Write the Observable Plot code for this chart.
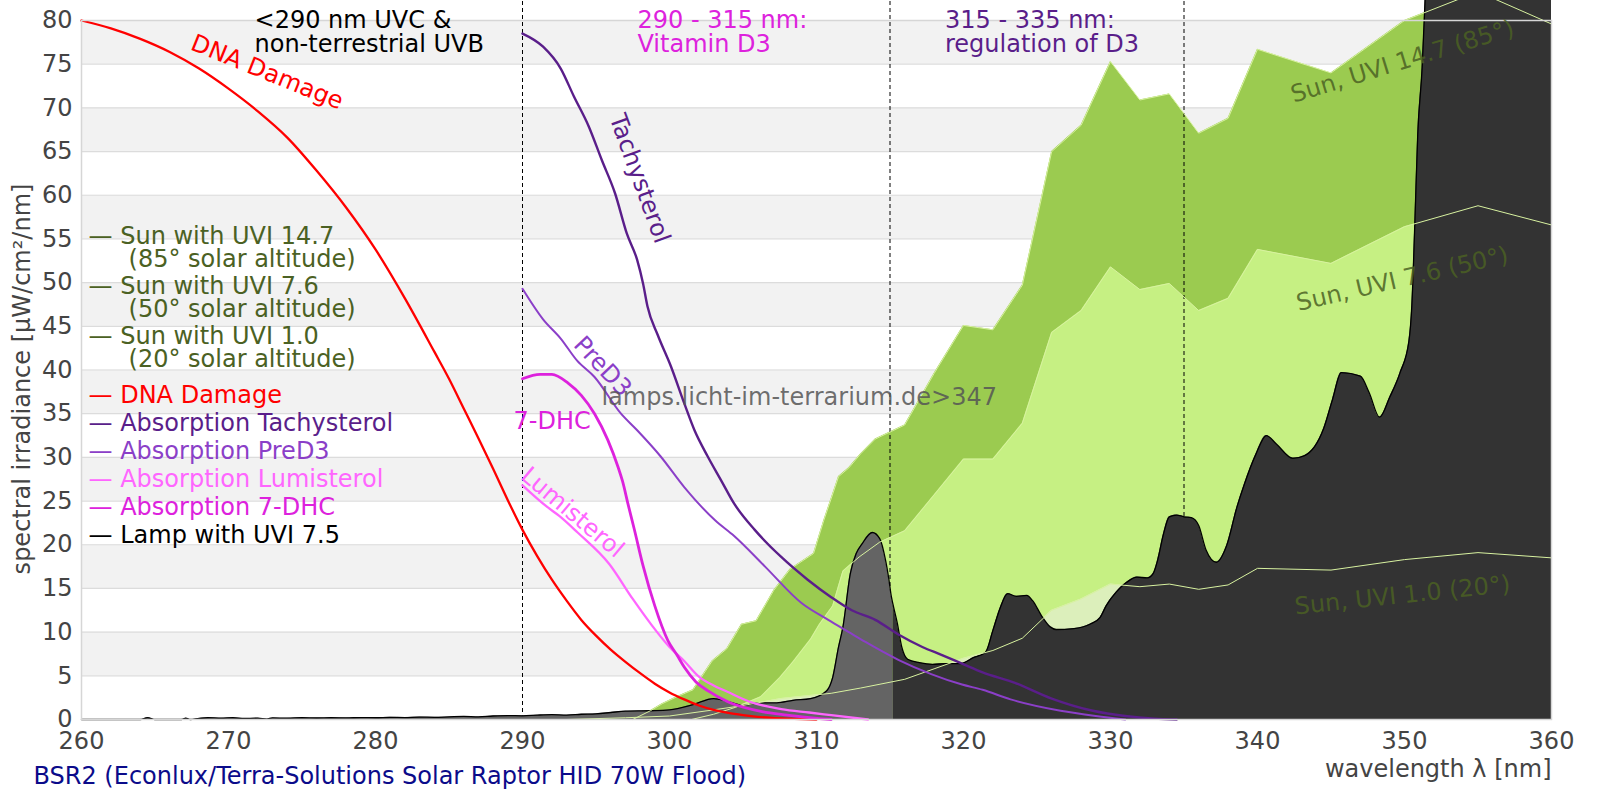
<!DOCTYPE html>
<html>
<head>
<meta charset="utf-8">
<script src="https://cdn.jsdelivr.net/npm/d3@7"></script>
<script src="https://cdn.jsdelivr.net/npm/@observablehq/plot@0.6"></script>
<style>
  html, body { margin: 0; padding: 0; background: #fff; }
  #chart { width: 1600px; height: 800px; overflow: hidden; position: relative; }
  #chart svg { display: block; }
</style>
</head>
<body>
<div id="chart"></div>
<script>
// ---------- axes ----------
const wavelengthTicks = [260, 270, 280, 290, 300, 310, 320, 330, 340, 350, 360];
const irradianceTicks = [0, 5, 10, 15, 20, 25, 30, 35, 40, 45, 50, 55, 60, 65, 70, 75, 80];
const bandStarts = [5, 15, 25, 35, 45, 55, 65, 75];
const regionEdges = [290, 315, 335];

// ---------- lamp spectrum (BSR2, UVI 7.5) ----------
const lampNm = [260, 264, 264.5, 265, 266.8, 267.1, 267.4, 268, 268.6, 269.5, 270.3, 271, 272, 272.6, 273, 274, 275, 276, 277, 278, 279, 280, 281, 282, 283, 284, 285, 286, 287, 288, 289, 290, 291, 292, 293, 294, 295, 296, 297, 298.7, 300, 301.6, 303, 303.4, 304.3, 305, 306.1, 307.3, 308.4, 309.6, 310.7, 311.1, 311.5, 311.8, 312.3, 312.7, 313.1, 313.8, 314.3, 314.7, 314.9, 315.1, 315.2, 315.5, 315.8, 316.2, 317, 317.9, 318.8, 319.8, 320.7, 321.5, 322, 322.5, 323, 323.6, 324.3, 324.7, 325.3, 325.9, 326.3, 327.5, 328.6, 329.3, 329.7, 330.4, 331.1, 331.8, 332.5, 332.9, 333.2, 333.6, 334, 334.5, 335, 335.5, 336, 336.5, 337.2, 337.9, 338.6, 339.1, 339.9, 340.6, 341.3, 342.4, 343.2, 344.5, 345.1, 345.7, 347, 347.6, 348.3, 349, 349.7, 350.3, 350.5, 350.7, 350.9, 351.2, 351.4, 351.7, 352, 360];
const lampVal = [0, 0, 0.2, 0, 0, 0.15, 0, 0.12, 0.2, 0.15, 0.2, 0.12, 0.15, 0.05, 0.18, 0.15, 0.2, 0.17, 0.2, 0.18, 0.22, 0.2, 0.25, 0.22, 0.28, 0.25, 0.3, 0.35, 0.3, 0.4, 0.45, 0.42, 0.5, 0.55, 0.5, 0.6, 0.65, 0.8, 0.95, 1.0, 1.1, 1.7, 2.4, 2.3, 1.9, 1.6, 1.9, 1.9, 2.2, 2.4, 3.3, 4.8, 8.3, 10.6, 16.7, 19.0, 20.1, 21.4, 20.7, 18.2, 16.3, 14.0, 13.2, 11.0, 8.3, 6.9, 6.5, 6.3, 6.4, 6.4, 7.1, 7.7, 10.2, 12.8, 14.4, 14.1, 14.2, 13.6, 11.9, 10.6, 10.3, 10.4, 10.9, 11.7, 13.0, 14.6, 15.7, 16.3, 16.2, 16.7, 18.2, 21.2, 23.2, 23.4, 23.2, 23.1, 22.2, 19.4, 18.0, 19.9, 24.3, 26.9, 30.4, 32.5, 31.5, 29.9, 30.2, 33.3, 36.6, 39.7, 39.3, 37.4, 34.6, 36.9, 39.7, 43.3, 47.4, 56.6, 66.9, 74.6, 82.3, 100, 125, 125];
const lampSplitNm = 315.2;

// ---------- sun spectra ----------
const sun85Nm = [297.5, 298.7, 299.5, 300.5, 301.6, 302.9, 303.9, 304.9, 305.9, 307.1, 308.2, 309.8, 310.5, 311.5, 312.2, 313, 314, 316, 318, 320, 322, 324, 326, 328, 330, 332, 334, 336, 338, 340, 345, 350, 355, 360];
const sun85Val = [0, 1.0, 1.8, 2.6, 3.4, 6.7, 8.1, 10.9, 11.3, 14.8, 17.2, 19.0, 22.8, 27.8, 28.8, 30.4, 32.1, 33.7, 39.6, 45.1, 44.6, 49.7, 65.0, 68.0, 75.3, 70.9, 71.6, 67.1, 68.8, 76.7, 74.0, 80.0, 83.3, 79.6];

const sun50Nm = [301.5, 303, 304.5, 306.2, 307.5, 308.4, 309.6, 310.2, 311.1, 311.8, 312.9, 314.3, 316, 318, 320, 322, 324, 326, 328, 330, 332, 334, 336, 338, 340, 345, 350, 355, 360];
const sun50Val = [0, 0.6, 1.4, 2.6, 4.8, 6.6, 9.2, 10.9, 13.0, 17.0, 18.6, 20.3, 21.6, 25.7, 29.8, 29.8, 33.9, 44.3, 46.8, 51.8, 49.2, 49.9, 46.8, 48.2, 53.8, 52.2, 56.4, 58.8, 56.6];

const sun20Nm = [293, 297, 300, 303, 305, 307.6, 311, 313, 316, 318, 320, 322, 324, 326, 328, 330, 332, 334, 336, 338, 340, 345, 350, 355, 360];
const sun20Val = [0, 0.2, 0.4, 1.1, 1.6, 2.4, 3.0, 3.6, 4.6, 5.8, 7.0, 7.9, 9.3, 12.5, 13.8, 15.5, 15.2, 15.5, 14.9, 15.4, 17.3, 17.1, 18.3, 19.1, 18.5];

// ---------- action / absorption spectra ----------
const dnaNm = [260, 262, 264, 266, 268, 270, 272, 274, 276, 278, 280, 282, 284, 285, 286, 287, 288, 289, 290, 291, 292, 293, 294, 295, 296, 297, 298, 299, 300, 301, 302, 303, 304, 305, 306, 307, 308, 309, 310];
const dnaVal = [80, 79.1, 77.9, 76.4, 74.5, 72.2, 69.6, 66.6, 62.8, 58.6, 53.8, 48.2, 42.1, 39.0, 35.6, 32.2, 28.7, 25.1, 21.7, 18.7, 16.0, 13.6, 11.4, 9.6, 8.0, 6.6, 5.3, 4.1, 3.1, 2.3, 1.6, 1.1, 0.75, 0.5, 0.3, 0.18, 0.1, 0.04, 0];

const tachyNm = [290, 291.4, 292.6, 293.5, 294.5, 295.4, 296.3, 297.1, 297.8, 298.2, 298.5, 299.2, 300.1, 301.0, 301.7, 302.6, 303.5, 304.4, 305.8, 307.6, 309.4, 311.0, 312.4, 314.0, 315.6, 317.2, 318.5, 319.9, 321.3, 323.5, 326, 328.8, 331, 333, 334.5];
const tachyVal = [78.5, 77.0, 74.5, 71.3, 67.9, 64.0, 60.2, 55.6, 52.6, 49.9, 47.3, 44.0, 40.4, 36.2, 33.1, 30.1, 27.4, 24.7, 21.7, 18.6, 16.0, 14.0, 12.5, 11.4, 9.7, 8.3, 7.4, 6.4, 5.4, 4.2, 2.4, 1.0, 0.4, 0.1, 0];

const preD3Nm = [290, 291.4, 292.6, 293.7, 294.9, 296.7, 297.8, 299.4, 301.0, 303.1, 304.4, 306.5, 309.0, 310.8, 312.2, 313.3, 315.6, 317.8, 319.9, 321.3, 323.2, 326.6, 329, 331];
const preD3Val = [49.3, 45.8, 43.6, 41.1, 39.2, 35.0, 33.1, 30.1, 26.6, 22.8, 21.0, 17.5, 13.3, 11.4, 10.0, 8.9, 6.8, 5.2, 4.0, 3.4, 2.3, 1.0, 0.4, 0];

const lumiNm = [290, 291.7, 292.5, 293.75, 295.9, 297.5, 298.7, 300.0, 301.0, 302.0, 303.0, 303.9, 305.5, 307.6, 309.5, 311, 313.5];
const lumiVal = [26.8, 24.3, 23.3, 21.4, 17.8, 13.8, 11.0, 8.3, 6.7, 4.9, 3.9, 3.2, 2.0, 1.2, 0.8, 0.5, 0];

const dhcNm = [290, 291.2, 292.0, 293.1, 294.0, 294.9, 295.8, 296.5, 296.8, 297.2, 297.6, 298.2, 299.0, 299.9, 300.5, 301.0, 301.8, 302.6, 304.0, 306.3, 308, 310.2, 311];
const dhcVal = [39.0, 39.5, 39.5, 38.5, 37.1, 35.0, 32.0, 28.9, 27.3, 24.5, 21.8, 17.6, 13.0, 9.0, 7.4, 6.0, 4.3, 3.3, 2.0, 0.9, 0.5, 0.1, 0];

// ---------- legend ----------
const legendLabels = ["— Sun with UVI 14.7", "(85° solar altitude)", "— Sun with UVI 7.6", "(50° solar altitude)", "— Sun with UVI 1.0", "(20° solar altitude)", "— DNA Damage", "— Absorption Tachysterol", "— Absorption PreD3", "— Absorption Lumisterol", "— Absorption 7-DHC", "— Lamp with UVI 7.5"];

// ---------- styles ----------
const C = {
  sunText: "#4b6123", dna: "#ff0000", tachy: "#5a1e8a", preD3: "#8b3fc8",
  lumi: "#ff66ff", dhc: "#dd22dd", lamp: "#000000",
  sun85: "#9bcb50", sun50: "#c6f083", sun20: "#dcefbb", sunLine: "#d8f2a0",
  lampLo: "#646464", lampHi: "#333333", band: "#f2f2f2", grid: "#dcdcdc"
};
const legendColors = [C.sunText, C.sunText, C.sunText, C.sunText, C.sunText, C.sunText, C.dna, C.tachy, C.preD3, C.lumi, C.dhc, C.lamp];
// annotation layout (in data units)
const legendX = [260.48, 263.2, 260.48, 263.2, 260.48, 263.2, 260.48, 260.48, 260.48, 260.48, 260.48, 260.48];
const legendY = [54.44, 51.77, 48.72, 46.04, 43.0, 40.32, 36.2, 33.0, 29.84, 26.59, 23.43, 20.18];

const rows = (nm, v) => nm.map((x, i) => ({nm: x, v: v[i]}));
const lamp = rows(lampNm, lampVal);
const sun85 = rows(sun85Nm, sun85Val);
const sun50 = rows(sun50Nm, sun50Val);
const sun20 = rows(sun20Nm, sun20Val);
const dna = rows(dnaNm, dnaVal);
const tachy = rows(tachyNm, tachyVal);
const preD3 = rows(preD3Nm, preD3Val);
const lumi = rows(lumiNm, lumiVal);
const dhc = rows(dhcNm, dhcVal);
const legend = legendLabels.map((t, i) => ({t, c: legendColors[i], x: legendX[i], y: legendY[i]}));

const headerNotes = [
  {t: "<290 nm UVC &\nnon-terrestrial UVB", x: 271.77, y: 76.37, c: "#000"},
  {t: "290 - 315 nm:\nVitamin D3", x: 297.82, y: 76.37, c: C.dhc},
  {t: "315 - 335 nm:\nregulation of D3", x: 318.74, y: 76.37, c: C.tachy}
];
const curveLabels = [
  {t: "DNA Damage", x: 272.63, y: 74.08, r: 22, c: C.dna},
  {t: "Tachysterol", x: 297.96, y: 61.92, r: 70, c: C.tachy},
  {t: "PreD3", x: 295.45, y: 40.4, r: 47, c: C.preD3},
  {t: "Lumisterol", x: 293.4, y: 23.69, r: 40, c: C.lumi}
];
const sunLabels = [
  {t: "Sun, UVI 14.7 (85°)", x: 349.86, y: 75.3, r: -17},
  {t: "Sun, UVI 7.6 (50°)", x: 349.86, y: 50.4, r: -13},
  {t: "Sun, UVI 1.0 (20°)", x: 349.86, y: 14.2, r: -6}
];
const ruleTop = 83;

const xDomain = [wavelengthTicks[0], wavelengthTicks[wavelengthTicks.length - 1]];
const yDomain = [irradianceTicks[0], irradianceTicks[irradianceTicks.length - 1]];
const smooth = "monotone-x";

const chart = Plot.plot({
  width: 1600,
  height: 800,
  marginLeft: 81,
  marginRight: 49,
  marginTop: 20,
  marginBottom: 81,
  style: {fontFamily: "'DejaVu Sans', sans-serif", fontSize: "24px", color: "#444", background: "#fff", overflow: "hidden"},
  x: {domain: xDomain, ticks: wavelengthTicks, tickSize: 0, tickPadding: 12, label: null},
  y: {domain: yDomain, ticks: irradianceTicks, tickSize: 0, tickPadding: 9, label: null},
  marks: [
    Plot.rect(bandStarts, {x1: xDomain[0], x2: xDomain[1], y1: d => d, y2: d => d + 5, fill: C.band}),
    Plot.ruleY(irradianceTicks, {stroke: C.grid, strokeWidth: 1.2}),
    Plot.areaY(sun85, {x: "nm", y1: 0, y2: "v", fill: C.sun85}),
    Plot.areaY(sun50, {x: "nm", y1: 0, y2: "v", fill: C.sun50}),
    Plot.areaY(sun20, {x: "nm", y1: 0, y2: "v", fill: C.sun20}),
    Plot.ruleX(regionEdges, {y1: 0, y2: ruleTop, stroke: "#000", strokeWidth: 1, strokeDasharray: "4,3"}),
    Plot.areaY(lamp.filter(d => d.nm <= lampSplitNm), {x: "nm", y1: 0, y2: "v", fill: C.lampLo, curve: smooth}),
    Plot.areaY(lamp.filter(d => d.nm >= lampSplitNm), {x: "nm", y1: 0, y2: "v", fill: C.lampHi, curve: smooth}),
    Plot.line(lamp, {x: "nm", y: "v", stroke: C.lamp, strokeWidth: 1.3, curve: smooth}),
    Plot.line(sun85, {x: "nm", y: "v", stroke: C.sunLine, strokeWidth: 1}),
    Plot.line(sun50, {x: "nm", y: "v", stroke: C.sunLine, strokeWidth: 1}),
    Plot.line(sun20, {x: "nm", y: "v", stroke: C.sunLine, strokeWidth: 1}),
    Plot.line(dna, {x: "nm", y: "v", stroke: C.dna, strokeWidth: 2.3, curve: smooth}),
    Plot.line(lumi, {x: "nm", y: "v", stroke: C.lumi, strokeWidth: 2.3, curve: smooth}),
    Plot.line(dhc, {x: "nm", y: "v", stroke: C.dhc, strokeWidth: 2.8, curve: smooth}),
    Plot.line(preD3, {x: "nm", y: "v", stroke: C.preD3, strokeWidth: 2, curve: smooth}),
    Plot.line(tachy, {x: "nm", y: "v", stroke: C.tachy, strokeWidth: 2.4, curve: smooth}),
    Plot.frame({stroke: "#d6d6d6", strokeWidth: 1.5}),
    // legend
    Plot.text(legend, {x: "x", y: "y", text: "t", fill: "c", textAnchor: "start", lineAnchor: "bottom", fontSize: 24}),
    // header notes
    Plot.text(headerNotes, {x: "x", y: "y", text: "t", fill: "c", textAnchor: "start", lineAnchor: "bottom", lineHeight: 1.017, fontSize: 24}),
    // curve labels
    Plot.text(curveLabels, {x: "x", y: "y", text: "t", fill: "c", rotate: "r", textAnchor: "middle", lineAnchor: "middle", fontSize: 24}),
    Plot.text(["7-DHC"], {x: 289.39, y: 33.3, text: d => d, fill: C.dhc, textAnchor: "start", lineAnchor: "bottom", fontSize: 24}),
    Plot.text(sunLabels, {x: "x", y: "y", text: "t", rotate: "r", fill: C.sunText, fillOpacity: 0.85, textAnchor: "middle", lineAnchor: "middle", fontSize: 24}),
    Plot.text(["lamps.licht-im-terrarium.de>347"], {x: 295.37, y: 35.94, text: d => d, fill: "#555", fillOpacity: 0.85, textAnchor: "start", lineAnchor: "bottom", fontSize: 24}),
    // axis titles and caption
    Plot.text(["spectral irradiance [µW/cm²/nm]"], {frameAnchor: "left", text: d => d, rotate: -90, dx: -59, dy: 9, textAnchor: "middle", lineAnchor: "middle", fill: "#444", fontSize: 24}),
    Plot.text(["wavelength λ [nm]"], {frameAnchor: "bottom-right", text: d => d, textAnchor: "end", lineAnchor: "bottom", dy: 57, fill: "#444", fontSize: 24}),
    Plot.text(["BSR2 (Econlux/Terra-Solutions Solar Raptor HID 70W Flood)"], {frameAnchor: "bottom-left", text: d => d, textAnchor: "start", lineAnchor: "bottom", dx: -48, dy: 64, fill: "#0b0b8a", fontSize: 24})
  ]
});
document.getElementById("chart").appendChild(chart);
</script>
</body>
</html>
